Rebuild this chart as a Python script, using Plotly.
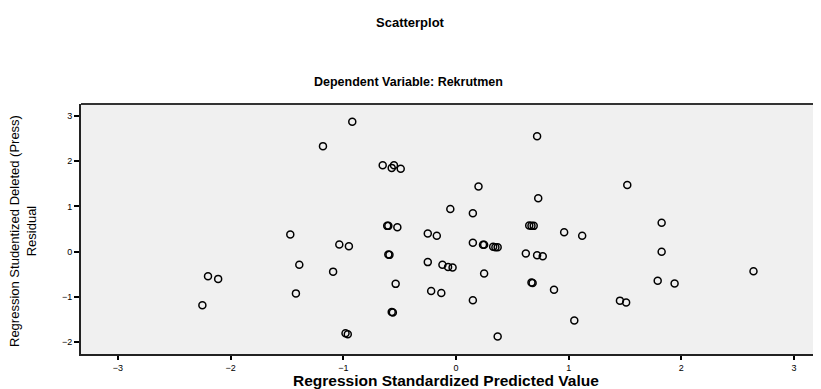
import plotly.graph_objects as go

predicted = [-1.18, -0.92, 0.72, -0.65, -0.55, -0.57, -0.49, 0.20, 0.73, -0.05,
             0.15, 1.52, -1.47, -1.035, -0.95, -1.39, -2.20, -2.11, -1.09, -1.42,
             -2.25, -0.61, -0.60, -0.52, -0.25, -0.17, 0.65, 0.67, 0.69, 0.96,
             1.12, 0.15, 0.24, 0.25, 0.33, 0.35, 0.37, -0.60, -0.59, 0.62,
             0.72, 0.77, -0.25, -0.12, -0.07, -0.03, 0.25, -0.535, 0.67, 0.68,
             -0.22, -0.13, 0.87, 0.15, -0.57, -0.56, 1.05, -0.98, -0.96, 0.37,
             1.825, 1.825, 1.79, 1.94, 2.64, 1.455, 1.51]
residual = [2.33, 2.87, 2.55, 1.91, 1.91, 1.85, 1.83, 1.44, 1.18, 0.94,
            0.85, 1.47, 0.38, 0.16, 0.12, -0.29, -0.54, -0.60, -0.44, -0.92,
            -1.18, 0.57, 0.57, 0.54, 0.40, 0.35, 0.58, 0.57, 0.57, 0.43,
            0.35, 0.20, 0.155, 0.155, 0.11, 0.10, 0.10, -0.06, -0.07, -0.04,
            -0.08, -0.10, -0.23, -0.29, -0.34, -0.35, -0.48, -0.71, -0.68, -0.69,
            -0.87, -0.91, -0.84, -1.07, -1.33, -1.34, -1.52, -1.80, -1.82, -1.87,
            0.64, 0.0, -0.64, -0.70, -0.43, -1.08, -1.12]

x_ticks = [-3, -2, -1, 0, 1, 2, 3]
y_ticks = [-2, -1, 0, 1, 2, 3]

main_title = "Scatterplot"
sub_title = "Dependent Variable: Rekrutmen"
x_title = "Regression Standardized Predicted Value"
y_title = "Regression Studentized Deleted (Press)<br>Residual"

FONT = "Liberation Sans, Arial, sans-serif"

# page body has an 8px margin; figure laid out in its own coordinates
W, H = 813, 381
L, T, B = 73, 96, 35
PW, PH = W - L, H - T - B


def px_x(page_x):
    return (page_x - 8 - L) / PW


def px_y(page_y):
    return 1 - (page_y - 8 - T) / PH


fig = go.Figure(go.Scatter(
    x=predicted, y=residual, mode="markers",
    marker=dict(symbol="circle-open", size=7, color="black", line=dict(width=1.5, color="black")),
    hoverinfo="skip"))

fig.update_layout(
    width=W, height=H,
    margin=dict(l=L, r=0, t=T, b=B, autoexpand=False),
    paper_bgcolor="white", plot_bgcolor="#f0f0f0",
    showlegend=False,
    font=dict(family=FONT, color="black"),
    xaxis=dict(range=[-3.327, 3.239], tickvals=x_ticks, ticks="outside", ticklen=4,
               tickwidth=1.5, tickcolor="black", showgrid=False, zeroline=False,
               showline=True, linecolor="#222", linewidth=2,
               tickfont=dict(size=9, family=FONT)),
    yaxis=dict(range=[-2.258, 3.26], tickvals=y_ticks, ticks="outside", ticklen=5,
               tickwidth=1.5, tickcolor="black", showgrid=False, zeroline=False,
               showline=True, linecolor="#222", linewidth=2,
               tickfont=dict(size=9, family=FONT)),
    shapes=[dict(type="line", xref="paper", yref="paper", x0=0, x1=1, y0=1, y1=1,
                 line=dict(color="#333", width=2))],
    annotations=[
        dict(text="<b>" + main_title + "</b>", xref="paper", yref="paper", x=px_x(410), xanchor="center",
             y=px_y(23), yanchor="middle", showarrow=False, font=dict(size=13)),
        dict(text="<b>" + sub_title + "</b>", xref="paper", yref="paper", x=px_x(408), xanchor="center",
             y=px_y(82), yanchor="middle", showarrow=False, font=dict(size=12.5)),
        dict(text="<b>" + x_title + "</b>", xref="paper", yref="paper", x=px_x(446), xanchor="center",
             y=px_y(380.5), yanchor="middle", showarrow=False, font=dict(size=15.5)),
        dict(text=y_title, xref="paper", yref="paper", x=px_x(23), xanchor="center",
             y=px_y(231), yanchor="middle", textangle=-90, showarrow=False, font=dict(size=13)),
    ],
)

fig.write_html("out.html")
